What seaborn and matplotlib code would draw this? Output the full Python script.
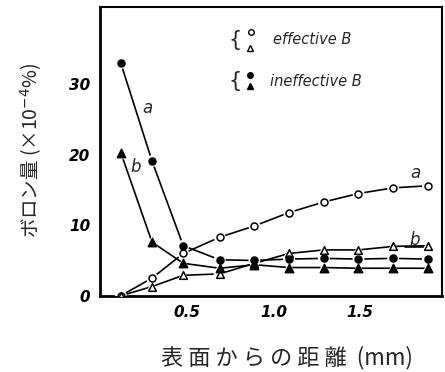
import matplotlib
matplotlib.use("Agg")
import matplotlib.pyplot as plt
import seaborn as sns
import pandas as pd

sns.set_theme(style="white")
plt.rcParams['font.family'] = ['Noto Sans CJK JP', 'DejaVu Sans']

# distance from surface (mm)
x = [0.12, 0.30, 0.48, 0.69, 0.89, 1.09, 1.29, 1.49, 1.69, 1.89]
# effective B (open symbols)
eff_a = [0.0, 2.5, 6.0, 8.3, 9.9, 11.8, 13.3, 14.5, 15.3, 15.6]
eff_b = [0.0, 1.3, 2.9, 3.1, 4.6, 6.0, 6.5, 6.5, 7.0, 7.1]
# ineffective B (filled symbols)
ineff_a = [33.0, 19.1, 7.1, 5.1, 5.0, 5.2, 5.3, 5.2, 5.3, 5.2]
ineff_b = [20.3, 7.6, 4.6, 3.9, 4.4, 4.0, 4.0, 3.9, 3.9, 3.9]

xticks = [0.5, 1.0, 1.5]
xticklabels = ["0.5", "1.0", "1.5"]
yticks = [0, 10, 20, 30]
yticklabels = ["0", "10", "20", "30"]

LAT = ['DejaVu Sans']

fig = plt.figure(figsize=(4.45, 3.72), dpi=100)
ax = fig.add_axes([0.2247, 0.205, 0.7679, 0.777])

series = [
    ("eff_a", eff_a, "o", "white", 5.0),
    ("eff_b", eff_b, "^", "white", 5.5),
    ("ineff_a", ineff_a, "o", "black", 5.0),
    ("ineff_b", ineff_b, "^", "black", 6.0),
]

for name, vals, mk, fc, ms in series:
    df = pd.DataFrame({"x": x, "y": vals})
    sns.lineplot(data=df, x="x", y="y", ax=ax, color="black", linewidth=1.2,
                 sort=False, estimator=None)

for name, vals, mk, fc, ms in series:
    df = pd.DataFrame({"x": x, "y": vals})
    # white halo to make gaps in the lines around the markers
    sns.scatterplot(data=df, x="x", y="y", ax=ax, marker=mk, s=(ms + 3.5) ** 2,
                    color="white", edgecolor="none", zorder=3)
for name, vals, mk, fc, ms in series:
    df = pd.DataFrame({"x": x, "y": vals})
    sns.scatterplot(data=df, x="x", y="y", ax=ax, marker=mk, s=ms ** 2,
                    color=fc, edgecolor="black", linewidth=1.1, zorder=4)

ax.set_xlim(0, 1.97)
ax.set_ylim(0, 41)
ax.set_xticks(xticks)
ax.set_xticklabels(xticklabels, fontstyle="italic", fontsize=11, family=LAT,
                   fontweight="bold")
ax.set_yticks(yticks)
ax.set_yticklabels(yticklabels, fontstyle="italic", fontsize=11, family=LAT,
                   fontweight="bold")
ax.tick_params(direction="in", length=5, width=1.2, color="black",
               labelcolor="black", pad=7, top=False, right=False)
for side, sp in ax.spines.items():
    sp.set_color("black")
    sp.set_linewidth(2.0 if side in ("left", "bottom") else 1.5)
ax.set_xlabel("")
ax.set_ylabel("")
ax.grid(False)

# curve labels
kw = dict(fontsize=12, fontstyle="italic", family=LAT, ha="center", va="center")
ax.text(0.276, 26.6, "a", **kw)
ax.text(0.207, 18.2, "b", **kw)
ax.text(1.816, 17.4, "a", **kw)
ax.text(1.816, 7.9, "b", **kw)
ax.plot([1.76, 1.87], [6.95, 6.95], color="black", linewidth=1.2)

# hand-made legend
tr = ax.transAxes
ax.text(0.395, 0.886, "{", transform=tr, fontsize=15, family=LAT,
        ha="center", va="center")
ax.plot([0.441], [0.914], marker="o", ms=4, mfc="white", mec="black", mew=1.0,
        transform=tr, clip_on=False)
ax.plot([0.438], [0.858], marker="^", ms=4.5, mfc="white", mec="black", mew=1.0,
        transform=tr, clip_on=False)
ax.text(0.506, 0.886, "effective B", transform=tr, fontsize=10.5, family=LAT,
        fontstyle="italic", ha="left", va="center")
ax.text(0.395, 0.742, "{", transform=tr, fontsize=15, family=LAT,
        ha="center", va="center")
ax.plot([0.440], [0.765], marker="o", ms=4, mfc="black", mec="black",
        transform=tr, clip_on=False)
ax.plot([0.438], [0.726], marker="^", ms=5, mfc="black", mec="black",
        transform=tr, clip_on=False)
ax.text(0.497, 0.742, "ineffective B", transform=tr, fontsize=10.5, family=LAT,
        fontstyle="italic", ha="left", va="center")

fig.text(0.07, 0.595, "ボロン量 (×10$^{-4}$%)", rotation=90, fontsize=14,
         ha="center", va="center")
fig.text(0.645, 0.04, "表 面 か ら の 距 離  (mm)", fontsize=16,
         ha="center", va="center")

fig.savefig("out.png", dpi=100, facecolor="white")
